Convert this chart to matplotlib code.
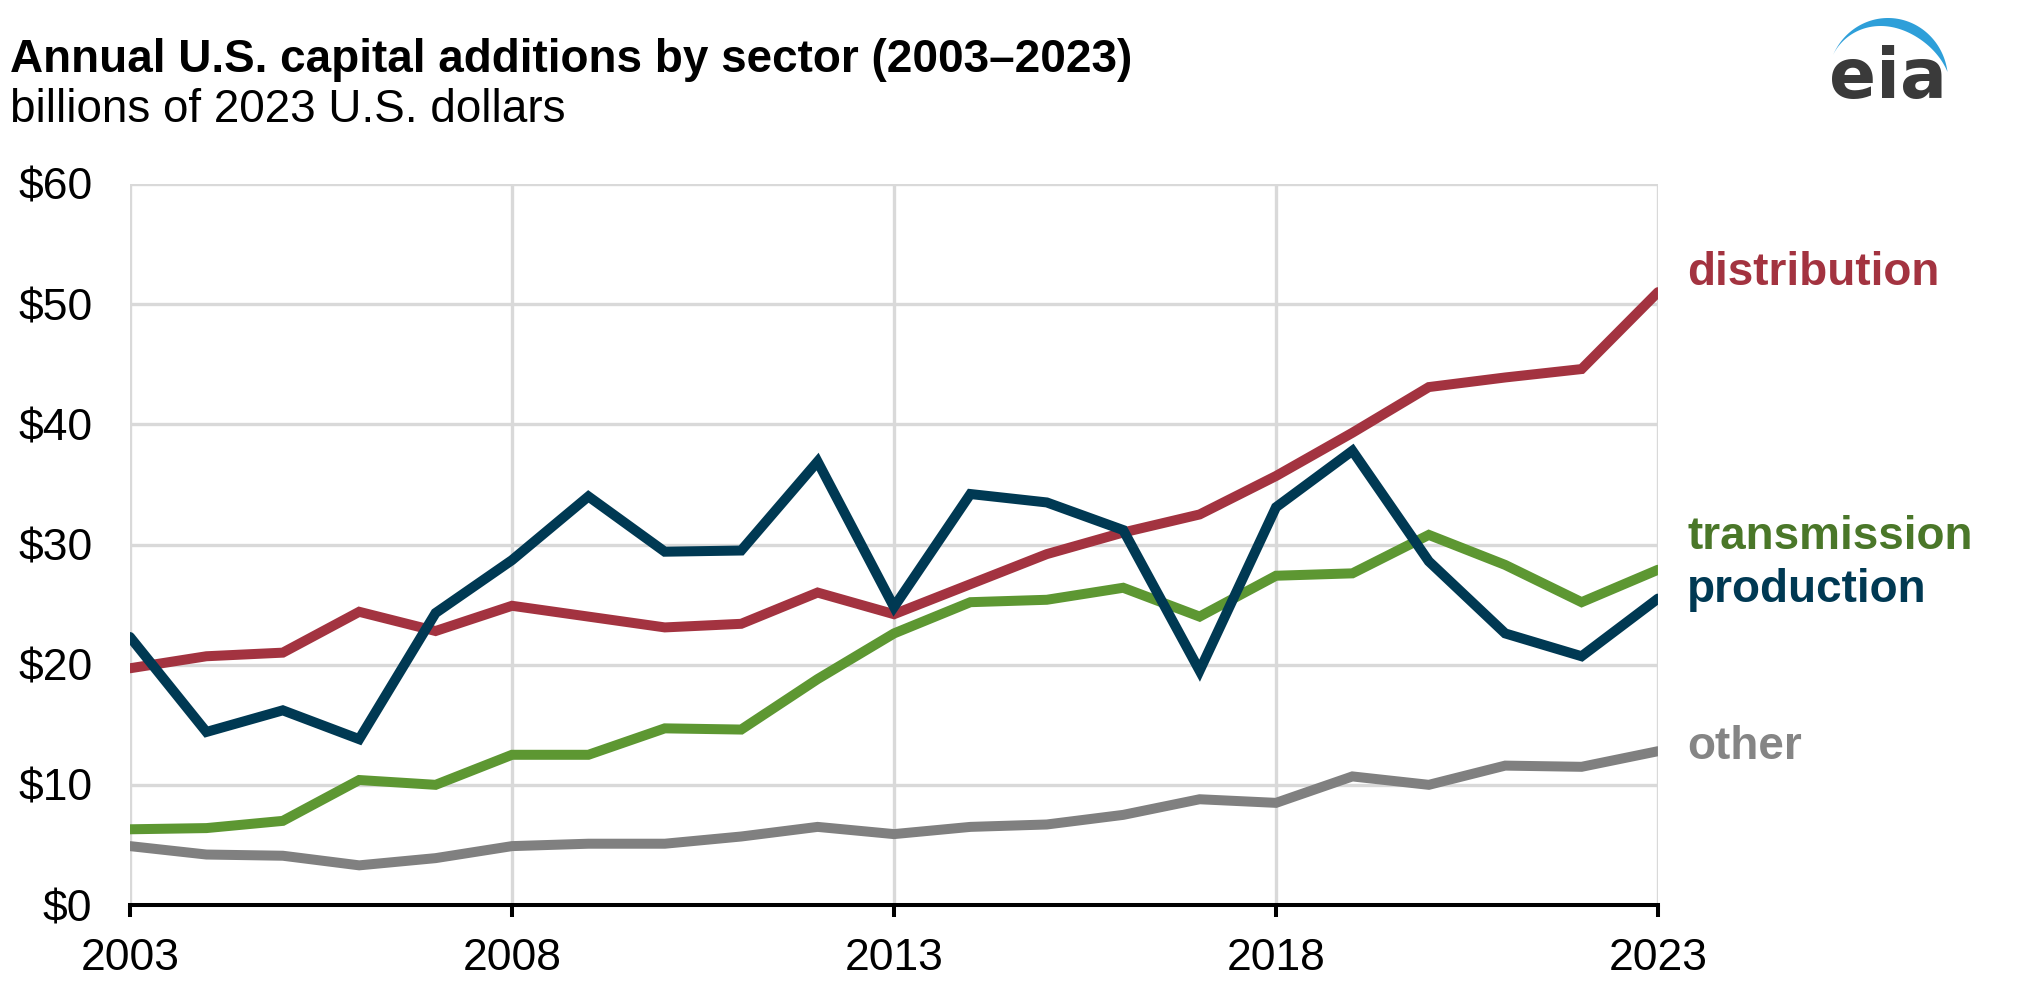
import numpy as np
import matplotlib.pyplot as plt
from matplotlib.patches import Polygon

plt.rcParams['font.family'] = ['Liberation Sans', 'DejaVu Sans']

# data (billions of 2023 dollars)
years = list(range(2003, 2024))
distribution = [19.7, 20.7, 21.0, 24.4, 22.8, 24.9, 24.0, 23.1, 23.4, 26.0, 24.2,
                26.7, 29.2, 31.0, 32.5, 35.7, 39.3, 43.1, 43.9, 44.6, 51.0]
production = [22.3, 14.4, 16.2, 13.8, 24.3, 28.7, 34.0, 29.4, 29.5, 36.9, 24.8,
              34.2, 33.5, 31.2, 19.5, 33.1, 37.8, 28.6, 22.6, 20.7, 25.5]
transmission = [6.3, 6.4, 7.0, 10.4, 10.0, 12.5, 12.5, 14.7, 14.6, 18.8, 22.6,
                25.2, 25.4, 26.4, 24.0, 27.4, 27.6, 30.8, 28.3, 25.2, 27.9]
other = [4.9, 4.2, 4.1, 3.3, 3.9, 4.9, 5.1, 5.1, 5.7, 6.5, 5.9,
         6.5, 6.7, 7.5, 8.8, 8.5, 10.7, 10.0, 11.6, 11.5, 12.8]

x_ticks = [2003, 2008, 2013, 2018, 2023]
y_ticks = [0, 10, 20, 30, 40, 50, 60]

series = [
    ('other', other, '#808080', '#858585', 747),
    ('transmission', transmission, '#5D9732', '#4A7729', 537),
    ('distribution', distribution, '#A33340', '#A33340', 273),
    ('production', production, '#003953', '#003953', 590),
]

W, H = 2019, 990
fig = plt.figure(figsize=(W / 100, H / 100), dpi=100)
ax = fig.add_axes([130 / W, 1 - 905 / H, (1658 - 130) / W, (905 - 184) / H])

for name, vals, col, tcol, ty in series:
    ax.plot(years, vals, color=col, lw=7.2, solid_capstyle='round',
            solid_joinstyle='miter', zorder=3)
    fig.text(1687 / W, 1 - ty / H, name, color=tcol, fontsize=33,
             fontweight='bold', va='center', ha='left')

ax.set_xlim(2003, 2023)
ax.set_ylim(0, 60)
ax.set_xticks(x_ticks)
ax.set_xticklabels([str(y) for y in x_ticks])
ax.set_yticks(y_ticks)
ax.set_yticklabels(['$%d' % v for v in y_ticks])
ax.grid(True, color='#D9D9D9', lw=2.4, zorder=0)
ax.set_axisbelow(True)
for s in ['top', 'right', 'left']:
    ax.spines[s].set_visible(False)
ax.spines['bottom'].set_linewidth(2.9)
ax.spines['bottom'].set_zorder(4)
ax.tick_params(axis='x', length=8.6, width=2.9, labelsize=32, pad=15, direction='out')
ax.tick_params(axis='y', length=0, labelsize=32, pad=27)

fig.text(10 / W, 1 - 60 / H, 'Annual U.S. capital additions by sector (2003\u20132023)',
         fontsize=33, fontweight='bold', va='center', ha='left')
fig.text(10 / W, 1 - 110 / H, 'billions of 2023 U.S. dollars',
         fontsize=33, va='center', ha='left')

# eia logo
fig.text(1888 / W, 1 - 98 / H, 'eia', fontsize=50, fontweight='bold', color='#3A3A3A',
         ha='center', va='baseline', family=['DejaVu Sans'])
th = np.radians(np.linspace(156, 7.5, 80))
u = np.linspace(0, 1, 80)
w = 10 * np.sin(np.pi * u ** 1.4)
xo = 1888 + 60 * np.cos(th)
yo = 80 - 62 * np.sin(th)
xi = 1888 + (60 - w) * np.cos(th)
yi = 80 - (62 - w) * np.sin(th)
px = np.concatenate([xo, xi[::-1]])
py = np.concatenate([yo, yi[::-1]])
pts = np.column_stack([px / W, 1 - py / H])
fig.patches.append(Polygon(pts, closed=True, transform=fig.transFigure,
                           color='#2E9FD9', lw=0))

fig.savefig('out.png', dpi=100)
